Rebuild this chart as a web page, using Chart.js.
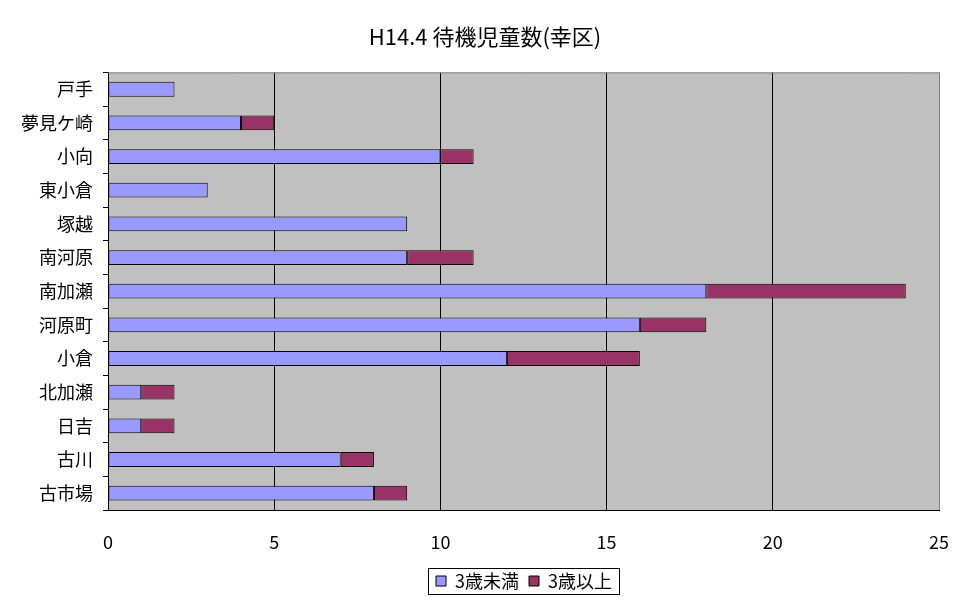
<!DOCTYPE html>
<html>
<head>
<meta charset="utf-8">
<script src="https://cdn.jsdelivr.net/npm/chart.js@4.4.0/dist/chart.umd.min.js"></script>
<style>
  body { margin: 0; background: #fff; }
</style>
</head>
<body>
<canvas id="grafico" width="970" height="604"></canvas>
<script>
// Datos
const chiku = ['戸手', '夢見ケ崎', '小向', '東小倉', '塚越', '南河原', '南加瀬', '河原町', '小倉', '北加瀬', '日吉', '古川', '古市場'];
const sanSaiMiman = [2, 4, 10, 3, 9, 9, 18, 16, 12, 1, 1, 7, 8];
const sanSaiIjou = [0, 1, 1, 0, 0, 2, 6, 2, 4, 1, 1, 1, 1];
const xTicks = [0, 5, 10, 15, 20, 25];

const fuente = '"Noto Sans CJK JP", "Noto Sans", sans-serif';

// fondo gris, bordes del área y marco de la leyenda
const fondo = {
  id: 'fondo',
  afterLayout(chart) {
    // título centrado en el lienzo, leyenda desplazada a la derecha
    const centrar = (box, cx) => {
      const dx = cx - (box.left + box.right) / 2;
      box.left += dx;
      box.right += dx;
    };
    centrar(chart.titleBlock, 485);
    centrar(chart.legend, 524);
  },
  beforeDraw(chart) {
    const { ctx, chartArea: a } = chart;
    ctx.save();
    ctx.fillStyle = '#C0C0C0';
    ctx.fillRect(a.left, a.top, a.right - a.left, a.bottom - a.top);
    ctx.restore();
  },
  beforeDatasetsDraw(chart) {
    const { ctx, chartArea: a } = chart;
    ctx.save();
    ctx.strokeStyle = '#808080';
    ctx.lineWidth = 1;
    ctx.beginPath();
    ctx.moveTo(a.left, a.top + 0.5);
    ctx.lineTo(a.right + 0.5, a.top + 0.5);
    ctx.lineTo(a.right + 0.5, a.bottom);
    ctx.stroke();
    ctx.restore();
  },
  afterDraw(chart) {
    const hb = chart.legend.legendHitBoxes;
    if (!hb || !hb.length) return;
    const left = Math.min(...hb.map(h => h.left)) - 8;
    const right = Math.max(...hb.map(h => h.left + h.width)) + 7;
    const top = Math.min(...hb.map(h => h.top)) - 4;
    const bottom = Math.max(...hb.map(h => h.top + h.height)) + 4;
    const ctx = chart.ctx;
    ctx.save();
    ctx.strokeStyle = '#000';
    ctx.lineWidth = 1;
    ctx.strokeRect(Math.round(left) + 0.5, Math.round(top) + 0.5, Math.round(right - left), Math.round(bottom - top));
    ctx.restore();
  }
};

const ctx = document.getElementById('grafico').getContext('2d');
const miGrafico = new Chart(ctx, {
  type: 'bar',
  data: {
    labels: chiku,
    datasets: [{
      label: '3歳未満',
      data: sanSaiMiman,
      backgroundColor: '#9999FF',
      borderColor: '#000',
      borderWidth: 1,
      borderSkipped: false,
      barPercentage: 0.44,
      categoryPercentage: 1
    }, {
      label: '3歳以上',
      data: sanSaiIjou,
      backgroundColor: '#993366',
      borderColor: '#000',
      borderWidth: 1,
      borderSkipped: false,
      barPercentage: 0.44,
      categoryPercentage: 1
    }]
  },
  options: {
    indexAxis: 'y',
    responsive: false,
    animation: false,
    layout: { padding: { left: 0, right: 22, top: 0, bottom: 4 } },
    scales: {
      x: {
        stacked: true,
        min: 0,
        max: 25,
        afterBuildTicks(scale) { scale.ticks = xTicks.map(v => ({ value: v })); },
        afterFit(scale) { scale.height = 52; },
        grid: {
          color: c => (c.tick && c.tick.value === 25 ? '#808080' : '#000'),
          drawTicks: false
        },
        border: { color: '#000' },
        ticks: { color: '#000', padding: 21, font: { family: fuente, size: 18 } }
      },
      y: {
        stacked: true,
        afterFit(scale) { scale.width = 108; },
        grid: {
          offset: true,
          drawOnChartArea: false,
          drawTicks: true,
          tickLength: 5,
          color: '#000'
        },
        border: { color: '#000' },
        ticks: { color: '#000', padding: 10, font: { family: fuente, size: 18 } }
      }
    },
    plugins: {
      title: {
        display: true,
        text: 'H14.4 待機児童数(幸区)',
        color: '#000',
        font: { family: fuente, size: 22, weight: 'normal' },
        padding: { top: 23, bottom: 23 }
      },
      legend: {
        position: 'bottom',
        labels: {
          color: '#000',
          boxWidth: 10,
          boxHeight: 10,
          padding: 10,
          font: { family: fuente, size: 18 }
        }
      },
      tooltip: { enabled: false }
    }
  },
  plugins: [fondo]
});
</script>
</body>
</html>
